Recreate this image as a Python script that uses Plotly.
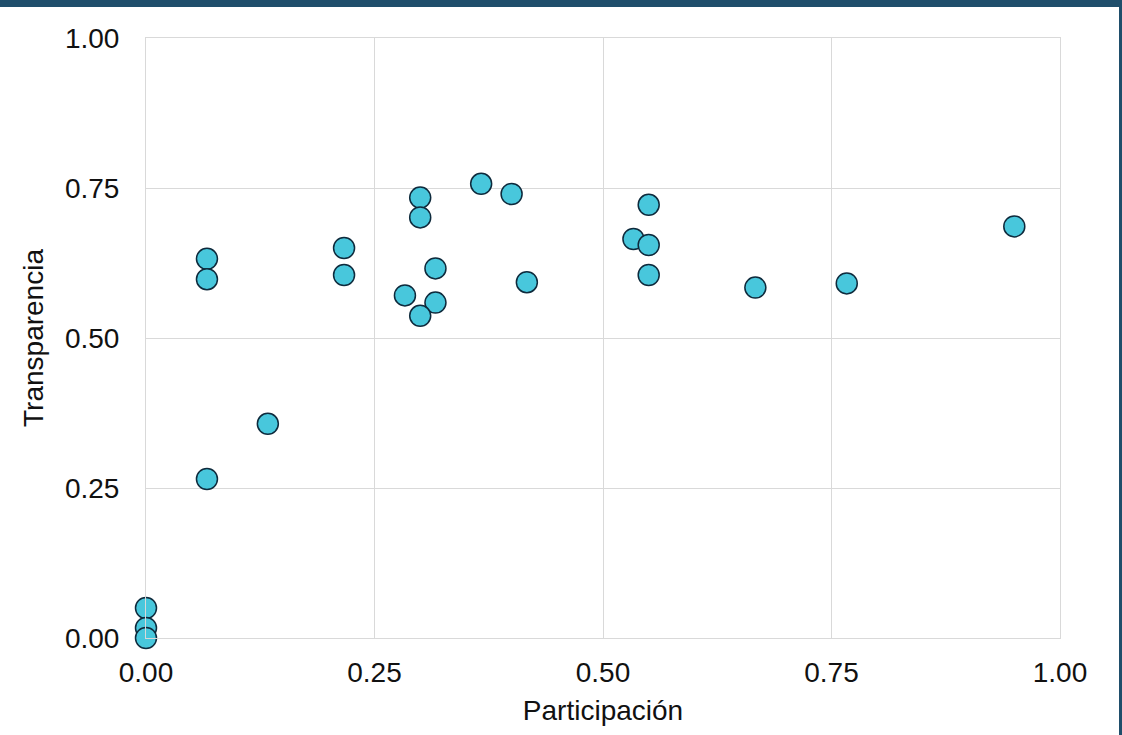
import plotly.graph_objects as go

participacion = [0.0, 0.0, 0.0, 0.0667, 0.0667, 0.0667, 0.1333, 0.2167, 0.2167,
                 0.3, 0.3, 0.3167, 0.2833, 0.3167, 0.3, 0.3667, 0.4, 0.4167,
                 0.5333, 0.55, 0.55, 0.55, 0.6667, 0.7667, 0.95]
transparencia = [0.05, 0.0167, 0.0, 0.632, 0.598, 0.265, 0.357, 0.65, 0.605,
                 0.734, 0.701, 0.616, 0.571, 0.559, 0.537, 0.757, 0.74, 0.593,
                 0.665, 0.722, 0.655, 0.605, 0.584, 0.591, 0.686]

x_ticks = [0, 0.25, 0.5, 0.75, 1.0]
y_ticks = [0, 0.25, 0.5, 0.75, 1.0]

W, H = 1122, 735
L, R, T, B = 146, 62, 38, 97
pw, ph = W - L - R, H - T - B

fig = go.Figure()
fig.add_trace(go.Scatter(
    x=participacion, y=transparencia, mode="markers", cliponaxis=False,
    marker=dict(size=21, color="#48C7DC", line=dict(color="#0E2A3C", width=1.5)),
    showlegend=False, hoverinfo="x+y"))

font = "Liberation Sans, Arial, sans-serif"
fig.update_layout(
    width=W, height=H,
    margin=dict(l=L, r=R, t=T, b=B),
    paper_bgcolor="white", plot_bgcolor="white",
    font=dict(family=font, size=28, color="#111111"),
    xaxis=dict(range=[0, 1], tickvals=x_ticks, tickformat=".2f",
               showgrid=True, gridcolor="#D9D9D9", gridwidth=1,
               zeroline=False, showline=True, mirror=True, linecolor="#D9D9D9", linewidth=1,
               ticks="outside", ticklen=9, tickcolor="rgba(0,0,0,0)",
               tickfont=dict(size=28), title=dict(text="Participación", font=dict(size=28), standoff=13)),
    yaxis=dict(range=[0, 1], tickvals=y_ticks, tickformat=".2f",
               showgrid=True, gridcolor="#D9D9D9", gridwidth=1,
               zeroline=False, showline=True, mirror=True, linecolor="#D9D9D9", linewidth=1,
               ticks="outside", ticklen=20, tickcolor="rgba(0,0,0,0)",
               tickfont=dict(size=28), title=dict(text="Transparencia", font=dict(size=28), standoff=13)),
    shapes=[
        dict(type="rect", xref="paper", yref="paper",
             x0=-L / pw, x1=(W - L) / pw, y0=1 + (T - 7) / ph, y1=1 + T / ph,
             fillcolor="#1F4E6B", line=dict(width=0), layer="above"),
        dict(type="rect", xref="paper", yref="paper",
             x0=(W - 3 - L) / pw, x1=(W - L) / pw, y0=-B / ph, y1=1 + T / ph,
             fillcolor="#1F4E6B", line=dict(width=0), layer="above"),
    ],
)
fig.write_html("out.html", config={"displayModeBar": False},
               post_script="document.body.style.margin='0';document.body.style.overflow='hidden';")
